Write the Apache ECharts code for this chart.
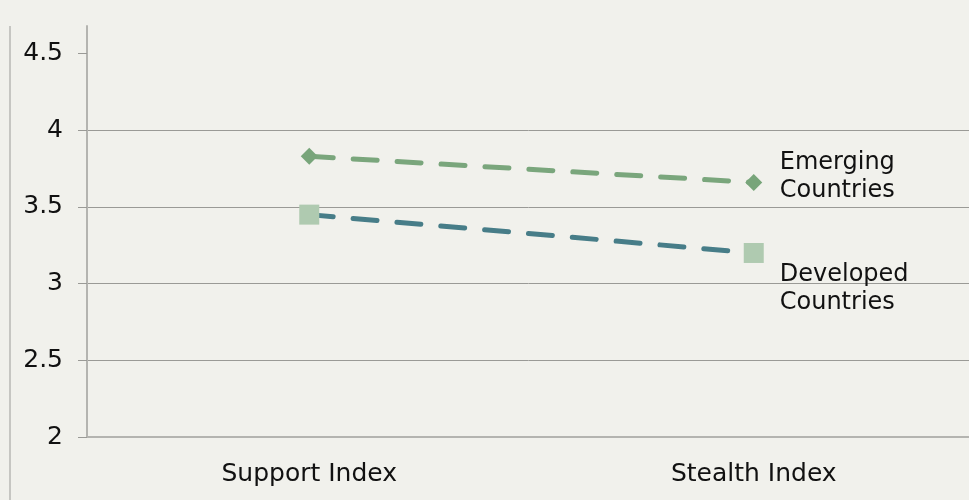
<!DOCTYPE html>
<html>
<head>
<meta charset="utf-8">
<script src="https://cdn.jsdelivr.net/npm/echarts@6/dist/echarts.min.js"></script>
<style>
  html, body { margin: 0; padding: 0; background: #f1f1ec; }
  #chart { width: 969px; height: 500px; }
</style>
</head>
<body>
<div id="chart"></div>
<script>
  // data
  let categories = ['Support Index', 'Stealth Index'];
  let emerging = [3.83, 3.66];
  let developed = [3.45, 3.20];
  let yTicks = [2, 2.5, 3, 3.5, 4, 4.5];

  let chart = echarts.init(document.getElementById('chart'));
  let font = 'DejaVu Sans';

  chart.setOption({
    backgroundColor: '#f1f1ec',
    animation: false,
    textStyle: { fontFamily: font },
    grid: { left: 87, width: 889, top: 26, height: 411, containLabel: false, outerBoundsMode: 'none' },
    graphic: [{
      type: 'line',
      shape: { x1: 10, y1: 26, x2: 10, y2: 500 },
      style: { stroke: '#c6c6c2', lineWidth: 2 }
    }],
    xAxis: {
      type: 'category',
      data: categories,
      boundaryGap: true,
      axisLine: { lineStyle: { color: '#b4b4b0', width: 2 } },
      axisTick: { length: 8, lineStyle: { color: '#9a9a96', width: 2 } },
      axisLabel: { color: '#111', fontSize: 25, fontFamily: font, margin: 25 }
    },
    yAxis: {
      type: 'value',
      min: 2,
      max: 4.68,
      interval: 0.5,
      axisLine: { show: true, lineStyle: { color: '#b4b4b0', width: 2 } },
      axisTick: { show: true, length: 9, customValues: yTicks, lineStyle: { color: '#9a9a96' } },
      axisLabel: { color: '#111', fontSize: 25, fontFamily: font, margin: 24, customValues: yTicks,
        formatter: v => String(v) },
      splitLine: { show: true, showMaxLine: false, lineStyle: { color: '#9a9a96', width: 1 } }
    },
    series: [
      {
        name: 'Emerging Countries',
        type: 'line',
        data: emerging,
        symbol: 'diamond',
        symbolSize: 17,
        itemStyle: { color: '#78a57a' },
        lineStyle: { color: '#7aa67c', width: 5, type: [24, 20], cap: 'round' },
        endLabel: {
          show: true,
          formatter: 'Emerging\nCountries',
          color: '#111', fontSize: 24, fontFamily: font, lineHeight: 28,
          distance: 26, offset: [0, -6], align: 'left'
        }
      },
      {
        name: 'Developed Countries',
        type: 'line',
        data: developed,
        symbol: 'rect',
        symbolSize: 20,
        itemStyle: { color: '#afcab0' },
        lineStyle: { color: '#477d88', width: 5, type: [24, 20], cap: 'round' },
        endLabel: {
          show: true,
          formatter: 'Developed\nCountries',
          color: '#111', fontSize: 24, fontFamily: font, lineHeight: 28,
          distance: 26, offset: [0, 36], align: 'left'
        }
      }
    ]
  });
</script>
</body>
</html>
